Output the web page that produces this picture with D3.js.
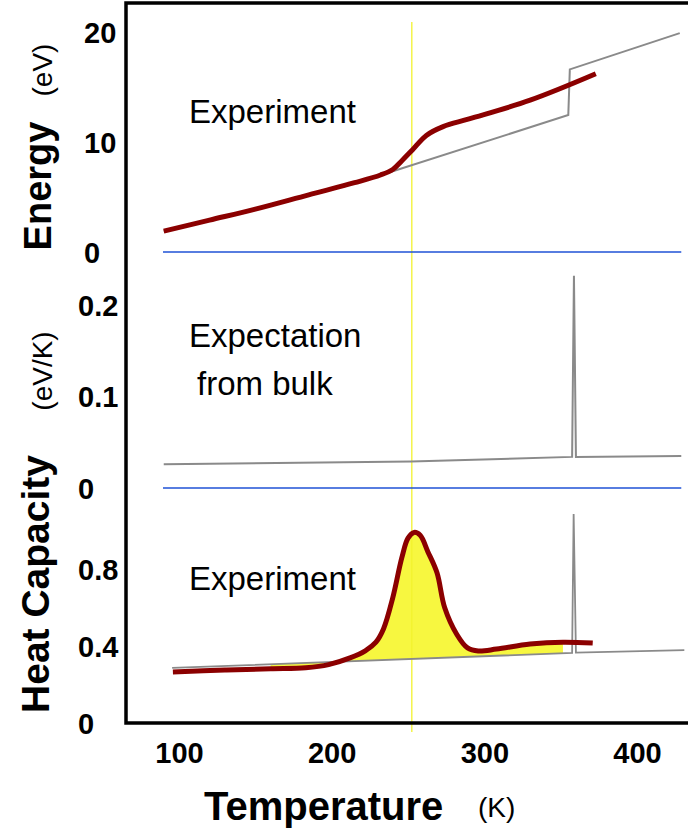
<!DOCTYPE html>
<html>
<head>
<meta charset="utf-8">
<script src="https://cdn.jsdelivr.net/npm/d3@7"></script>
<style>
  html, body { margin: 0; padding: 0; background: #fff; }
  svg { display: block; font-family: "Liberation Sans", Arial, Helvetica, sans-serif; }
</style>
</head>
<body>
<svg id="chart" width="688" height="832"></svg>
<script>
// Temperature ticks (K)
const tempTicks = [100, 200, 300, 400];
const energyTicks = [0, 10, 20];
const bulkCpTicks = [0, 0.1, 0.2];
const expCpTicks = [0, 0.4, 0.8];

// Measured energy (eV) vs temperature (K)
const energyExpT = [90, 120, 150, 185, 215, 232, 240, 246, 253, 262, 273, 290, 330, 373];
const energyExpE = [1.9, 2.9, 3.9, 5.2, 6.3, 7.0, 7.5, 8.3, 9.3, 10.6, 11.4, 12.1, 13.8, 16.2];

// Bulk energy: linear rise, jump at the bulk melting point
const energyBulkT = [90, 120, 150, 185, 215, 237, 355, 356, 428];
const energyBulkE = [1.9, 2.9, 3.9, 5.2, 6.3, 7.2, 12.45, 16.6, 19.9];

// Bulk heat capacity (eV/K) with a delta-like spike at melting
const cpBulkT = [90, 252, 357.5, 358.7, 360, 429];
const cpBulkC = [0.026, 0.029, 0.034, 0.232, 0.034, 0.035];

// Measured heat capacity (eV/K)
const cpExpT = [96, 130, 160, 183, 198, 212, 222, 229, 234, 240, 246, 250, 254, 258, 263, 269, 274, 282, 289, 296, 308, 330, 351.5, 371];
const cpExpC = [0.265, 0.275, 0.282, 0.287, 0.303, 0.338, 0.375, 0.42, 0.49, 0.65, 0.86, 0.96, 0.99, 0.975, 0.89, 0.78, 0.60, 0.46, 0.39, 0.374, 0.384, 0.41, 0.42, 0.415];

// Baseline (bulk-like) heat capacity in the lower panel, with the melting spike
const cpBaseT = [95.5, 357.5, 358.5, 360, 431];
const cpBaseC = [0.286, 0.364, 1.086, 0.366, 0.379];

// Range of the zero reference lines and the transition marker
const zeroLineT = [89.5, 429];
const transitionT = 252.5;
const fillRangeT = [150, 352];

const svg = d3.select("#chart");

const x = d3.scaleLinear().domain([100, 400]).range([179, 637]);
const yE = d3.scaleLinear().domain([0, 20]).range([252, 32]);
const yB = d3.scaleLinear().domain([0, 0.2]).range([488, 305]);
const yC = d3.scaleLinear().domain([0, 0.8]).range([723, 569]);

const RED = "#8b0000", GREY = "#8a8a8a", BLUE = "#1f52d6";
const CURVE = d3.curveCatmullRom.alpha(0.5);

const zip = (a, b) => a.map((v, i) => [v, b[i]]);

// Yellow filled excess heat capacity (between measured curve and baseline)
const baseAt = t => {
  const i = d3.bisectRight(cpBaseT, t) - 1;
  const j = Math.min(i + 1, cpBaseT.length - 1);
  const k = (t - cpBaseT[i]) / (cpBaseT[j] - cpBaseT[i] || 1);
  return cpBaseC[i] + k * (cpBaseC[j] - cpBaseC[i]);
};
const fillPts = zip(cpExpT, cpExpC).filter(d => d[0] >= fillRangeT[0] && d[0] <= fillRangeT[1]);
svg.append("path")
  .datum(fillPts)
  .attr("fill", "#f7f740")
  .attr("d", d3.area()
    .x(d => x(d[0]))
    .y0(d => yC(baseAt(d[0])))
    .y1(d => yC(d[1]))
    .curve(CURVE));

// Transition temperature marker
svg.append("line")
  .attr("x1", x(transitionT)).attr("x2", x(transitionT))
  .attr("y1", 22).attr("y2", 732)
  .attr("stroke", "#f2f22e").attr("stroke-width", 1.3);

// Zero reference lines
[[yE, 0], [yB, 0]].forEach(([s, v]) => {
  svg.append("line")
    .attr("x1", x(zeroLineT[0])).attr("x2", x(zeroLineT[1]))
    .attr("y1", s(v)).attr("y2", s(v))
    .attr("stroke", BLUE).attr("stroke-width", 1.6);
});

const linear = (sy) => d3.line().x(d => x(d[0])).y(d => sy(d[1]));
const smooth = (sy) => d3.line().x(d => x(d[0])).y(d => sy(d[1])).curve(CURVE);

// Grey bulk curves
svg.append("path").datum(zip(energyBulkT, energyBulkE))
  .attr("fill", "none").attr("stroke", GREY).attr("stroke-width", 2)
  .attr("d", linear(yE));
svg.append("path").datum(zip(cpBulkT, cpBulkC))
  .attr("fill", "none").attr("stroke", GREY).attr("stroke-width", 2)
  .attr("d", linear(yB));
svg.append("path").datum(zip(cpBaseT, cpBaseC))
  .attr("fill", "none").attr("stroke", GREY).attr("stroke-width", 1.8)
  .attr("d", linear(yC));

// Measured curves
svg.append("path").datum(zip(energyExpT, energyExpE))
  .attr("fill", "none").attr("stroke", RED).attr("stroke-width", 5)
  .attr("stroke-linecap", "butt").attr("stroke-linejoin", "round")
  .attr("d", smooth(yE));
svg.append("path").datum(zip(cpExpT, cpExpC))
  .attr("fill", "none").attr("stroke", RED).attr("stroke-width", 5)
  .attr("stroke-linecap", "butt").attr("stroke-linejoin", "round")
  .attr("d", smooth(yC));

// Frame: top, left and bottom edges
svg.append("path")
  .attr("d", "M688,3H126V723H688")
  .attr("fill", "none").attr("stroke", "#000").attr("stroke-width", 3.5);

// Axis tick labels
const styleAxis = (g) => {
  g.select(".domain").remove();
  g.selectAll(".tick line").remove();
  g.selectAll("text")
    .attr("font-family", "'Liberation Sans', Arial, sans-serif")
    .attr("font-weight", "bold").attr("font-size", 29).attr("fill", "#000");
};
const leftAxis = (scale, ticks, fmt, dx) => {
  const g = svg.append("g").attr("transform", "translate(126,0)")
    .call(d3.axisLeft(scale).tickValues(ticks).tickFormat(fmt).tickSize(0));
  styleAxis(g);
  g.selectAll("text").attr("text-anchor", "start").attr("x", dx).attr("dy", "0.36em");
};
leftAxis(yE, energyTicks, d3.format("d"), -42);
leftAxis(yB, bulkCpTicks, d => d === 0 ? "0" : d3.format(".1f")(d), -48);
leftAxis(yC, expCpTicks, d => d === 0 ? "0" : d3.format(".1f")(d), -48);

const gx = svg.append("g").attr("transform", "translate(0,723)")
  .call(d3.axisBottom(x).tickValues(tempTicks).tickFormat(d3.format("d")).tickSize(0));
styleAxis(gx);
gx.selectAll("text").attr("y", 40).attr("dy", null);

// Axis titles
const txt = (s, o) => {
  const t = svg.append("text").text(s).attr("fill", "#000");
  Object.entries(o).forEach(([k, v]) => t.attr(k, v));
  return t;
};
txt("Temperature", { x: 204, y: 820, "font-size": 40, "font-weight": "bold" });
txt("(K)", { x: 478, y: 817, "font-size": 28 });
txt("Energy", { transform: "translate(51,186) rotate(-90)", "text-anchor": "middle", "font-size": 38, "font-weight": "bold" });
txt("(eV)", { transform: "translate(52,70) rotate(-90)", "text-anchor": "middle", "font-size": 28 });
txt("Heat Capacity", { transform: "translate(49,584) rotate(-90)", "text-anchor": "middle", "font-size": 39, "font-weight": "bold" });
txt("(eV/K)", { transform: "translate(52,371) rotate(-90)", "text-anchor": "middle", "font-size": 28 });

// Panel annotations
txt("Experiment", { x: 189, y: 123, "font-size": 33 });
txt("Expectation", { x: 189, y: 347, "font-size": 33 });
txt("from bulk", { x: 197, y: 395, "font-size": 33 });
txt("Experiment", { x: 189, y: 590, "font-size": 33 });
</script>
</body>
</html>
